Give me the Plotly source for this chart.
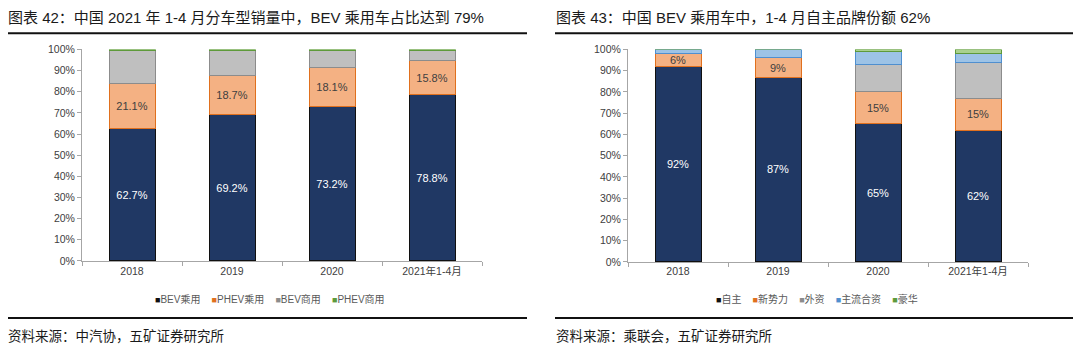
import plotly.graph_objects as go

W, H = 1080, 349

# ---- data: left panel (share by vehicle type, %) ----
years = ["2018", "2019", "2020", "2021年1-4月"]
bev_pass = [62.7, 69.2, 73.2, 78.8]
phev_pass = [21.1, 18.7, 18.1, 15.8]
bev_comm = [15.7, 11.6, 8.2, 4.9]
phev_comm = [0.5, 0.5, 0.5, 0.5]

# ---- data: right panel (BEV passenger car share by brand type, %) ----
own_brand = [92, 87, 65, 62]
new_forces = [6, 9, 15, 15]
foreign = [0, 0, 13, 17]
joint_venture = [2, 4, 6, 4]
luxury = [0, 0, 1, 2]

FONT = "Liberation Sans, Arial, Noto Sans CJK SC, sans-serif"
CJK = "Noto Sans CJK SC, sans-serif"

NAVY = ("#203864", "#101010")
ORANGE = ("#F4B183", "#E0701E")
GRAY = ("#BFBFBF", "#8C8C8C")
BLUE = ("#9DC3E6", "#4F8FCF")
GREEN = ("#A9D18E", "#5E9A3A")


def px(x):
    return x / W


def py(y):
    return (H - y) / H


fig = go.Figure()


def add_bar(name, vals, colors, xa, ya, fmt=None, tcolor=None):
    fill, line = colors
    if fmt:
        kw = dict(
            texttemplate=fmt,
            textposition="inside",
            insidetextanchor="middle",
            textangle=0,
            textfont=dict(family=FONT, size=11, color=tcolor),
        )
    else:
        kw = dict(textposition="none")
    fig.add_trace(go.Bar(
        x=years, y=vals, name=name, xaxis=xa, yaxis=ya,
        marker=dict(color=fill, line=dict(color=line, width=1)),
        showlegend=False, hoverinfo="skip", **kw,
    ))


add_bar("BEV乘用", bev_pass, NAVY, "x", "y", "%{y:.1f}%", "white")
add_bar("PHEV乘用", phev_pass, ORANGE, "x", "y", "%{y:.1f}%", "#404040")
add_bar("BEV商用", bev_comm, GRAY, "x", "y")
add_bar("PHEV商用", phev_comm, GREEN, "x", "y")

add_bar("自主", own_brand, NAVY, "x2", "y2", "%{y:.0f}%", "white")
add_bar("新势力", new_forces, ORANGE, "x2", "y2", "%{y:.0f}%", "#404040")
add_bar("外资", foreign, GRAY, "x2", "y2")
add_bar("主流合资", joint_venture, BLUE, "x2", "y2")
add_bar("豪华", luxury, GREEN, "x2", "y2")

xaxis_common = dict(
    type="category",
    range=[-0.5, 3.5],
    showline=True, linecolor="#A6A6A6", linewidth=1,
    ticks="outside", tickson="boundaries", ticklen=4, tickcolor="#A6A6A6",
    showgrid=False, zeroline=False,
    tickfont=dict(family=FONT, size=10.5, color="#404040"),
    fixedrange=True,
)
yaxis_common = dict(
    range=[0, 100], dtick=10, ticksuffix="%",
    showline=True, linecolor="#A6A6A6", linewidth=1,
    ticks="outside", ticklen=4, tickcolor="#A6A6A6",
    showgrid=False, zeroline=False,
    tickfont=dict(family=FONT, size=10.5, color="#404040"),
    fixedrange=True,
)

fig.update_layout(
    width=W, height=H,
    margin=dict(l=0, r=0, t=0, b=0),
    paper_bgcolor="white", plot_bgcolor="white",
    barmode="stack", bargap=0.54,
    uniformtext=dict(minsize=11, mode="show"),
    xaxis=dict(domain=[px(82), px(482)], anchor="y", **xaxis_common),
    yaxis=dict(domain=[py(264), py(45)], anchor="x", **yaxis_common),
    xaxis2=dict(domain=[px(628), px(1028)], anchor="y2", **xaxis_common),
    yaxis2=dict(domain=[py(265), py(45)], anchor="x2", **yaxis_common),
)

annotations = []


def text_at(x, y, text, size, color="#1a1a1a", family=CJK, anchor="left"):
    annotations.append(dict(
        x=px(x), y=py(y), xref="paper", yref="paper",
        xanchor=anchor, yanchor="middle", showarrow=False,
        text=text, font=dict(family=family, size=size, color=color),
    ))


# titles
text_at(6, 12, "图表 42：中国 2021 年 1-4 月分车型销量中，BEV 乘用车占比达到 79%", 15, family=FONT)
text_at(554, 12, "图表 43：中国 BEV 乘用车中，1-4 月自主品牌份额 62%", 15, family=FONT)

# footers
text_at(6, 341, "资料来源：中汽协，五矿证券研究所", 13.5)
text_at(554, 341, "资料来源：乘联会，五矿证券研究所", 13.5)


def legend_text(items):
    parts = []
    for name, (fill, line) in items:
        parts.append(
            f"<span style='color:{line};font-size:9px'>■</span>"
            f"<span style='color:#595959'>{name}</span>"
        )
    return "&nbsp;&nbsp;&nbsp;&nbsp;".join(parts)


left_items = [("BEV乘用", NAVY), ("PHEV乘用", ORANGE), ("BEV商用", GRAY), ("PHEV商用", GREEN)]
right_items = [("自主", NAVY), ("新势力", ORANGE), ("外资", GRAY), ("主流合资", BLUE), ("豪华", GREEN)]
text_at(270, 303, legend_text(left_items), 10, family=FONT, anchor="center")
text_at(817, 303, legend_text(right_items), 10, family=FONT, anchor="center")

fig.update_layout(annotations=annotations)

# rules under the titles and above the source notes
shapes = []
for x0, x1 in [(8, 527), (555, 1073)]:
    for y in (28.3, 323):
        shapes.append(dict(
            type="line", xref="paper", yref="paper",
            x0=px(x0), x1=px(x1), y0=py(y), y1=py(y),
            line=dict(color="#111111", width=2),
        ))
fig.update_layout(shapes=shapes)

fig.write_html("out.html")
